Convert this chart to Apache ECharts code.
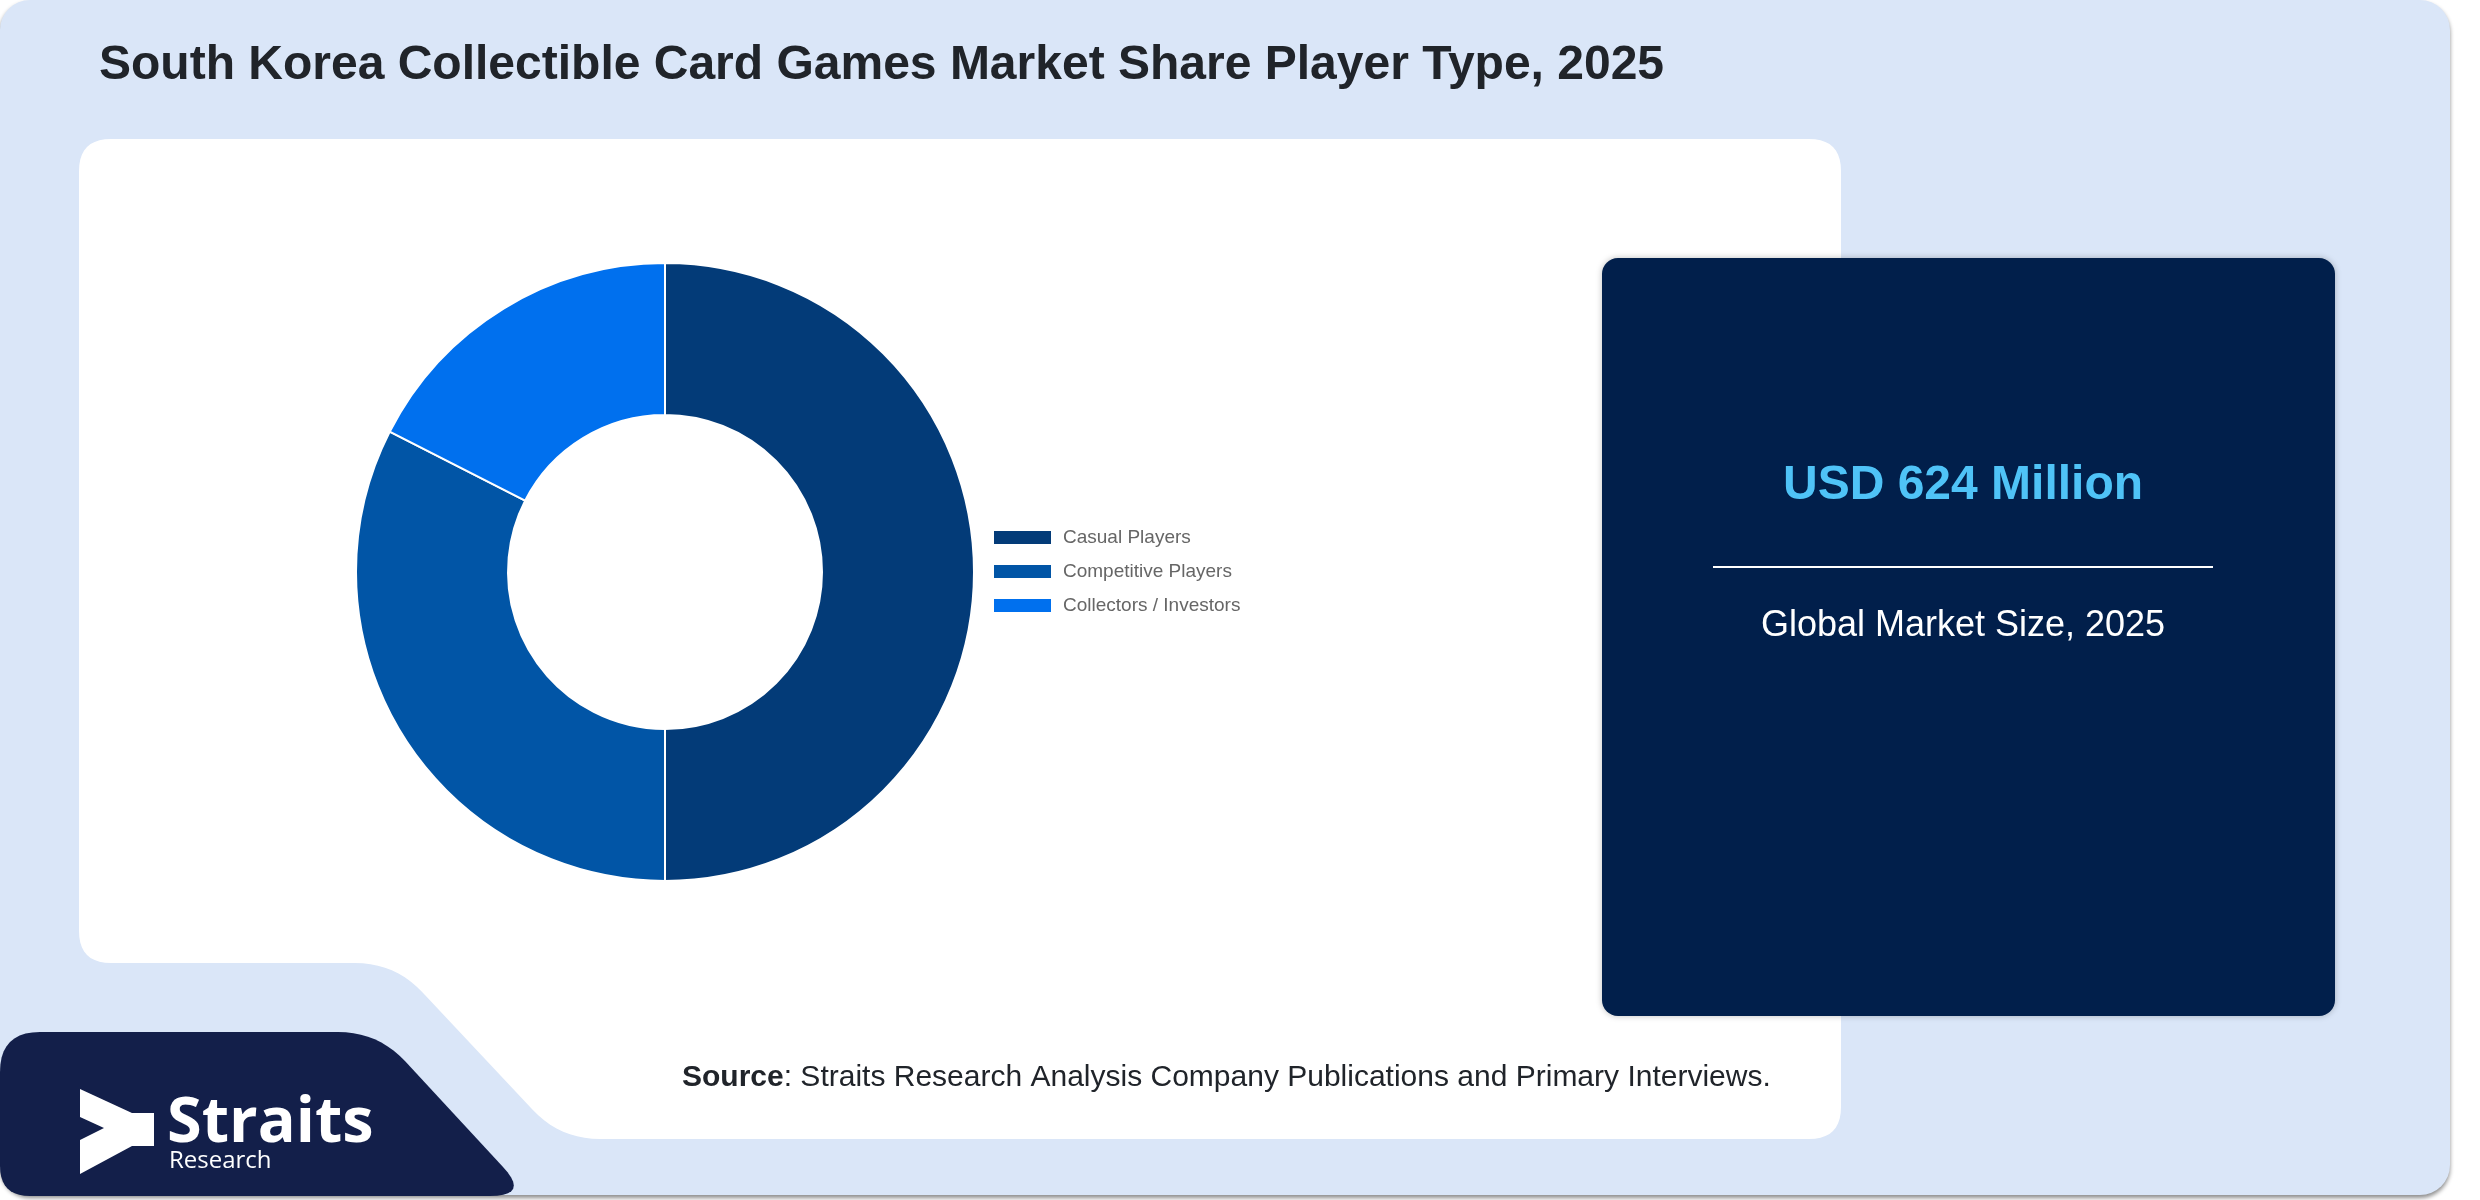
<!DOCTYPE html>
<html>
<head>
<meta charset="utf-8">
<script src="https://cdn.jsdelivr.net/npm/echarts@6/dist/echarts.min.js"></script>
<style>
html,body{margin:0;padding:0;background:#ffffff;}
#chart{width:2480px;height:1200px;}
</style>
</head>
<body>
<div id="chart"></div>
<script>
// ---- data ----
const categories = ['Casual Players', 'Competitive Players', 'Collectors / Investors'];
const shares = [50, 32.5, 17.5];
const titleText = 'South Korea Collectible Card Games Market Share Player Type, 2025';
const marketValue = 'USD 624 Million';
const marketLabel = 'Global Market Size, 2025';
const sourceBold = 'Source';
const sourceRest = ': Straits Research Analysis Company Publications and Primary Interviews.';

// ---- style ----
const sliceColors = ['#033b78', '#0155a6', '#0070ee'];

function roundedPoly(pts, radii) {
  const out = [];
  const n = pts.length;
  for (let i = 0; i < n; i++) {
    const p = pts[i], a = pts[(i - 1 + n) % n], b = pts[(i + 1) % n];
    const r = Array.isArray(radii) ? radii[i] : radii;
    const da = Math.hypot(a[0] - p[0], a[1] - p[1]);
    const db = Math.hypot(b[0] - p[0], b[1] - p[1]);
    const ra = Math.min(r, da / 2), rb = Math.min(r, db / 2);
    const p1 = [p[0] + (a[0] - p[0]) * ra / da, p[1] + (a[1] - p[1]) * ra / da];
    const p2 = [p[0] + (b[0] - p[0]) * rb / db, p[1] + (b[1] - p[1]) * rb / db];
    const steps = 10;
    for (let k = 0; k <= steps; k++) {
      const t = k / steps;
      const x = (1 - t) * (1 - t) * p1[0] + 2 * (1 - t) * t * p[0] + t * t * p2[0];
      const y = (1 - t) * (1 - t) * p1[1] + 2 * (1 - t) * t * p[1] + t * t * p2[1];
      out.push([x, y]);
    }
  }
  return out;
}

const chart = echarts.init(document.getElementById('chart'), null, {renderer: 'canvas'});

const whitePanel = roundedPoly([[79,139],[1841,139],[1841,1139],[560,1139],[395,963],[79,963]], [32,32,32,40,40,32]);
const navyPanel = roundedPoly([[0,1032],[378,1032],[530,1196],[0,1196]], [40,40,40,30]);
const logoArrow = [[80,1089],[132,1113],[154,1113],[154,1146],[132,1146],[80,1174],[80,1140],[104,1128],[80,1117]];

chart.setOption({
  animation: false,
  title: {
    text: titleText,
    left: 94,
    top: 37,
    textStyle: {fontFamily: 'Liberation Sans, Arial, sans-serif', fontSize: 48, fontWeight: 'bold', color: '#20242a'}
  },
  legend: {
    orient: 'vertical',
    left: 987,
    top: 523,
    itemWidth: 59,
    itemHeight: 15,
    itemGap: 15,
    icon: 'rect',
    data: categories,
    textStyle: {fontFamily: 'Liberation Sans, Arial, sans-serif', fontSize: 19, color: '#666666', padding: [0, 0, 0, 6]}
  },
  graphic: [
    {type: 'rect', z: -10, shape: {x: 0, y: 0, width: 2450, height: 1195, r: 30},
     style: {fill: '#dae6f8', shadowBlur: 4, shadowOffsetY: 3, shadowColor: 'rgba(0,0,0,0.45)'}},
    {type: 'polygon', z: -9, shape: {points: whitePanel}, style: {fill: '#ffffff'}},
    {type: 'polygon', z: -9, shape: {points: navyPanel}, style: {fill: '#131f4a'}},
    {type: 'rect', z: -8, shape: {x: 1602, y: 258, width: 733, height: 758, r: 16},
     style: {fill: '#011f4b', shadowBlur: 6, shadowColor: 'rgba(0,0,0,0.25)'}},
    {type: 'text', z: 5, style: {x: 1963, y: 486, text: marketValue, textAlign: 'center', textVerticalAlign: 'middle',
      font: 'bold 48px "Liberation Sans", Arial, sans-serif', fill: '#4fc3f7'}},
    {type: 'line', z: 5, shape: {x1: 1713, y1: 567, x2: 2213, y2: 567}, style: {stroke: '#ffffff', lineWidth: 2}},
    {type: 'text', z: 5, style: {x: 1963, y: 626, text: marketLabel, textAlign: 'center', textVerticalAlign: 'middle',
      font: '36px "Liberation Sans", Arial, sans-serif', fill: '#ffffff'}},
    {type: 'text', z: 5, style: {x: 682, y: 1078, textVerticalAlign: 'middle',
      text: '{b|' + sourceBold + '}{r|' + sourceRest + '}',
      rich: {
        b: {font: 'bold 30px "Liberation Sans", Arial, sans-serif', fill: '#20242a'},
        r: {font: '30px "Liberation Sans", Arial, sans-serif', fill: '#20242a'}
      }}},
    {type: 'polygon', z: 5, shape: {points: logoArrow}, style: {fill: '#ffffff'}},
    {type: 'text', z: 5, style: {x: 167, y: 1124, text: 'Straits', textVerticalAlign: 'middle',
      font: 'bold 63px "Open Sans", sans-serif', fill: '#ffffff'}},
    {type: 'text', z: 5, style: {x: 169, y: 1161, text: 'Research', textVerticalAlign: 'middle',
      font: '24px "Open Sans", sans-serif', fill: '#ffffff'}}
  ],
  series: [{
    type: 'pie',
    center: [665, 572],
    radius: [157, 309],
    startAngle: 90,
    clockwise: true,
    label: {show: false},
    labelLine: {show: false},
    emphasis: {disabled: true},
    itemStyle: {borderColor: '#ffffff', borderWidth: 2},
    data: categories.map((c, i) => ({name: c, value: shares[i], itemStyle: {color: sliceColors[i]}}))
  }]
});
</script>
</body>
</html>
